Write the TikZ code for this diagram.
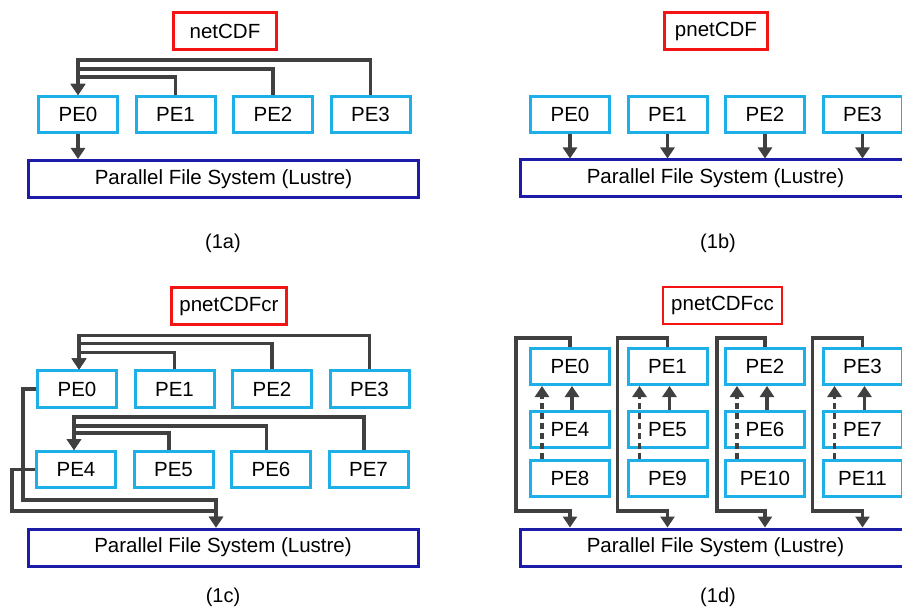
\documentclass[tikz,border=0pt]{standalone}
\usepackage{fontspec}
\setmainfont{Liberation Sans}
\usetikzlibrary{positioning,arrows.meta}

\definecolor{pecyan}{RGB}{29,175,232}
\definecolor{fsblue}{RGB}{28,28,168}
\definecolor{libred}{RGB}{245,20,20}
\definecolor{wiregray}{RGB}{64,64,64}

\begin{document}
\begin{tikzpicture}[x=1pt, y=-1pt, >={Triangle[width=14pt,length=11pt]},
  node distance=24pt and 15.5pt,
  pe/.style={draw=pecyan, line width=3pt, minimum width=79pt,
             minimum height=36pt, inner sep=0pt,
             font=\fontsize{20.5}{24}\selectfont},
  fs/.style={draw=fsblue, line width=3pt, minimum width=390pt,
             minimum height=37pt, inner sep=0pt,
             font=\fontsize{20.5}{24}\selectfont},
  lib/.style={draw=libred, line width=2.5pt, minimum width=103pt,
              minimum height=37pt, inner xsep=8pt,
              font=\fontsize{20.5}{24}\selectfont},
  caption/.style={font=\fontsize{20}{24}\selectfont},
  wire/.style={draw=wiregray, line width=3.2pt, ->}]
  \clip (0,0) rectangle (902,609);

  % (1a) netCDF
  \node (liba) [lib] at (225,31) {netCDF};
  \node (a0) [pe] at (78,114.5) {PE0};
  \node (a1) [pe, right=of a0] {PE1};
  \node (a2) [pe, right=of a1] {PE2};
  \node (a3) [pe, right=of a2] {PE3};
  \node (afs) [fs] at (223.5,179) {Parallel File System (Lustre)};
  \node (capa) [caption] at (223,243) {(1a)};

  \draw[wire] (a1.north) -- ++(0,-18) -| (a0.north);
  \draw[wire] (a2.north) -- ++(0,-26) -| (a0.north);
  \draw[wire] (a3.north) -- ++(0,-35) -| (a0.north);
  \draw[wire] (a0.south) -- (a0.south |- afs.north);

  % (1b) pnetCDF
  \node (libb) [lib] at (716,31) {pnetCDF};
  \node (b0) [pe] at (570,114.5) {PE0};
  \node (b1) [pe, right=of b0] {PE1};
  \node (b2) [pe, right=of b1] {PE2};
  \node (b3) [pe, right=of b2] {PE3};
  \node (bfs) [fs] at (715.5,178.5) {Parallel File System (Lustre)};
  \node (capb) [caption] at (718,243) {(1b)};

  \draw[wire] (b0.south) -- (b0.south |- bfs.north);
  \draw[wire] (b1.south) -- (b1.south |- bfs.north);
  \draw[wire] (b2.south) -- (b2.south |- bfs.north);
  \draw[wire] (b3.south) -- (b3.south |- bfs.north);

  % (1c) pnetCDFcr
  \node (libc) [lib] at (229,306) {pnetCDFcr};
  \node (c0) [pe] at (77,389) {PE0};
  \node (c1) [pe, right=of c0] {PE1};
  \node (c2) [pe, right=of c1] {PE2};
  \node (c3) [pe, right=of c2] {PE3};
  \node (c4) [pe] at (76,469.5) {PE4};
  \node (c5) [pe, right=of c4] {PE5};
  \node (c6) [pe, right=of c5] {PE6};
  \node (c7) [pe, right=of c6] {PE7};
  \node (cfs) [fs] at (223,547.5) {Parallel File System (Lustre)};
  \node (capc) [caption] at (223,597) {(1c)};

  \draw[wire] (c1.north) -- ++(0,-17) -| ([xshift=2pt]c0.north);
  \draw[wire] (c2.north) -- ++(0,-26) -| ([xshift=2pt]c0.north);
  \draw[wire] (c3.north) -- ++(0,-34) -| ([xshift=2pt]c0.north);
  \draw[wire] ([xshift=-4.5pt]c5.north) -- ++(0,-17) -| ([xshift=-2pt]c4.north);
  \draw[wire] ([xshift=-4.5pt]c6.north) -- ++(0,-24) -| ([xshift=-2pt]c4.north);
  \draw[wire] ([xshift=-4.5pt]c7.north) -- ++(0,-33) -| ([xshift=-2pt]c4.north);
  \draw[wire] (c0.west) -- ++(-13,0) -- ++(0,111) -| ([xshift=-7pt]cfs.north);
  \draw[wire] (c4.west) -- ++(-23,0) -- ++(0,41.5) -| ([xshift=-7pt]cfs.north);

  % (1d) pnetCDFcc
  \node (libd) [lib] at (722.5,305.5) {pnetCDFcc};
  \node (d0) [pe] at (570,366.5) {PE0};
  \node (d1) [pe, right=of d0] {PE1};
  \node (d2) [pe, right=of d1] {PE2};
  \node (d3) [pe, right=of d2] {PE3};
  \node (d4) [pe, below=of d0] {PE4};
  \node (d5) [pe, below=of d1] {PE5};
  \node (d6) [pe, below=of d2] {PE6};
  \node (d7) [pe, below=of d3] {PE7};
  \node (d8) [pe, below=10pt of d4] {PE8};
  \node (d9) [pe, below=10pt of d5] {PE9};
  \node (d10) [pe, below=10pt of d6] {PE10};
  \node (d11) [pe, below=10pt of d7] {PE11};
  \node (dfs) [fs] at (715.5,547.5) {Parallel File System (Lustre)};
  \node (capd) [caption] at (718,597) {(1d)};

  \foreach \i/\m/\b/\dx in {0/4/8/54, 1/5/9/50, 2/6/10/48, 3/7/11/50} {
    \draw[wire] ([xshift=2pt]d\m.north) -- ([xshift=2pt]d\i.south);
    \draw[wire, dash pattern=on 6pt off 4pt]
      ([xshift=-28pt]d\b.north) -- ([xshift=-28pt]d\i.south);
    \draw[wire] (d\i.north) -- ++(0,-9) -- ++(-\dx,0) -- ++(0,173)
      -| (d\i.north |- dfs.north);
  }
\end{tikzpicture}
\end{document}
